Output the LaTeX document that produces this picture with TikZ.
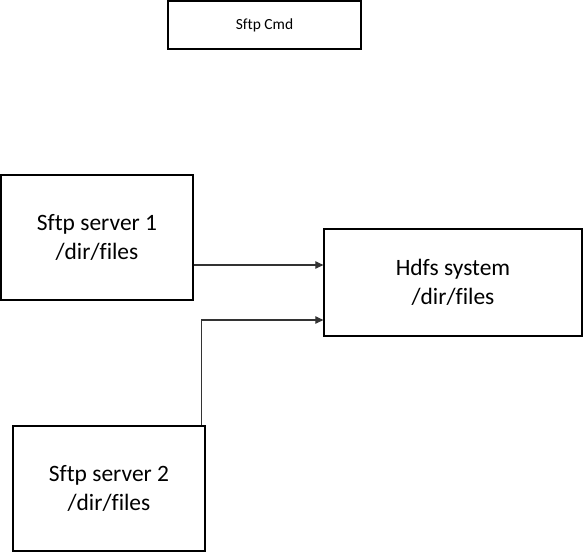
\documentclass[tikz,border=0pt]{standalone}
\usepackage{fontspec}
\setmainfont{Carlito}[Ligatures=NoCommon]
\usetikzlibrary{arrows.meta,calc}
\begin{document}
\begin{tikzpicture}[x=0.75pt,y=-0.75pt,
  box/.style={draw=black,line width=0.9pt,inner sep=0pt,align=center,
    font=\fontsize{17.6pt}{21.5pt}\selectfont},
  arr/.style={draw=black!80,line width=0.8pt,-{Triangle[length=6pt,width=5.5pt]}}]
\useasboundingbox (0,0) rectangle (583,553);
\node[box,minimum width={193*0.75pt},minimum height={48*0.75pt},
  font=\fontsize{11.6pt}{14pt}\selectfont] (cmd) at (264.5,25) {Sftp Cmd};
\node[box,minimum width={192*0.75pt},minimum height={125*0.75pt}] (s1) at (97,237.5) {Sftp server 1\\/dir/files};
\node[box,minimum width={258*0.75pt},minimum height={107*0.75pt}] (hdfs) at (453,282.5) {Hdfs system\\/dir/files};
\node[box,minimum width={192*0.75pt},minimum height={125*0.75pt}] (s2) at (109,488.5) {Sftp server 2\\/dir/files};
\draw[arr] ($(s1.east)+(0,27.5)$) -- ($(hdfs.west)+(0,-17.5)$);
\draw[arr] ($(s2.north east)+(-4,0)$) |- ($(hdfs.west)+(0,37.5)$);
\end{tikzpicture}
\end{document}
